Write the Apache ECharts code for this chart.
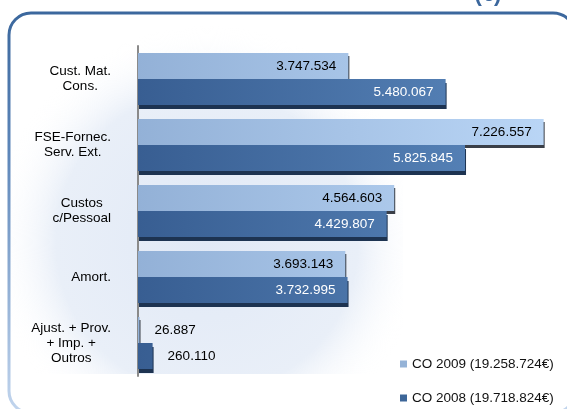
<!DOCTYPE html>
<html>
<head>
<meta charset="utf-8">
<script src="https://cdn.jsdelivr.net/npm/echarts@6/dist/echarts.min.js"></script>
<style>
  html, body { margin: 0; padding: 0; background: #fff; }
  #chart { width: 567px; height: 409px; }
</style>
</head>
<body>
<div id="chart"></div>
<script>
const categories = ['Cust. Mat.\nCons.', 'FSE-Fornec.\nServ. Ext.', 'Custos\nc/Pessoal', 'Amort.', 'Ajust. + Prov.\n+ Imp. +\nOutros']
const co2009 = [3747534, 7226557, 4564603, 3693143, 26887]
const co2008 = [5480067, 5825845, 4429807, 3732995, 260110]
const seriesNames = ['CO 2009 (19.258.724€)', 'CO 2008 (19.718.824€)']

const font = '"Liberation Sans", Arial, sans-serif'
const fs = 13.5

// 1234567 -> 1.234.567
const fmt = v => String(v).replace(/\B(?=(\d{3})+(?!\d))/g, '.')

const chart = echarts.init(document.getElementById('chart'))

const barLabel = (color, v) => v < 500000
  ? { show: true, position: 'right', distance: 15, color: '#000' }
  : { show: true, position: 'insideRight', distance: 12, color }

const mkData = (vals, color) => vals.map(v => ({ value: v, label: barLabel(color, v) }))

const option = {
  animation: false,
  textStyle: { fontFamily: font },
  graphic: [
    {
      type: 'rect', z: -10, silent: true,
      shape: { x: 11, y: 26, width: 392, height: 348 },
      style: {
        fill: new echarts.graphic.RadialGradient(0.5, 0.62, 0.62, [
          { offset: 0, color: '#e1e9f6' },
          { offset: 0.7, color: '#e9eff8' },
          { offset: 1, color: 'rgba(255,255,255,0)' }
        ])
      }
    },
    {
      type: 'rect', z: 10, silent: true,
      shape: { x: 9, y: 13, width: 566, height: 400, r: 22 },
      style: {
        fill: 'none', lineWidth: 3,
        stroke: new echarts.graphic.LinearGradient(0, 0, 0, 1, [
          { offset: 0, color: '#3b679d' },
          { offset: 0.35, color: '#5d86b9' },
          { offset: 1, color: '#c3d6ee' }
        ])
      }
    },
    {
      type: 'text', z: 10, silent: true,
      style: { x: 488, y: 6, text: '(€)', align: 'center', verticalAlign: 'bottom',
        fill: '#3b679d', font: 'bold 22px ' + font }
    }
  ],
  legend: {
    orient: 'vertical',
    left: 400,
    top: 357,
    padding: 0,
    itemWidth: 7,
    itemHeight: 7,
    itemGap: 20,
    itemTextGap: 3,
    icon: 'rect',
    textStyle: { fontSize: fs, color: '#111', fontFamily: font },
    data: [
      { name: seriesNames[0], itemStyle: { color: '#95b3d7' } },
      { name: seriesNames[1], itemStyle: { color: '#3d6698' } }
    ]
  },
  grid: { left: 138, right: 8, top: 46, bottom: 33 },
  xAxis: {
    type: 'value',
    min: 0,
    max: 7500000,
    show: false
  },
  yAxis: {
    type: 'category',
    data: categories,
    inverse: true,
    offset: 9,
    axisLine: { lineStyle: { color: '#8a8a8a', width: 2 } },
    axisTick: { length: 4, lineStyle: { color: '#8a8a8a', width: 1.5 } },
    axisLabel: {
      margin: 18,
      align: 'right',
      color: '#000',
      fontSize: fs,
      lineHeight: 15,
      formatter: v => v.split('\n').map(s => '{c|' + s + '}').join('\n'),
      rich: { c: { align: 'center', fontSize: fs, lineHeight: 15, color: '#000', fontFamily: font } }
    }
  },
  series: [
    {
      name: seriesNames[0],
      type: 'bar',
      barWidth: 26,
      barGap: '0%',
      data: mkData(co2009, '#000'),
      label: { fontSize: fs, fontFamily: font, formatter: p => fmt(p.value) },
      itemStyle: {
        color: new echarts.graphic.LinearGradient(138, 0, 560, 0, [
          { offset: 0, color: '#93b1d7' },
          { offset: 1, color: '#bbd7f7' }
        ], true),
        shadowColor: '#3a3f48', shadowOffsetY: 3, shadowOffsetX: 1, shadowBlur: 0
      }
    },
    {
      name: seriesNames[1],
      type: 'bar',
      barWidth: 26,
      data: mkData(co2008, '#fff'),
      label: { fontSize: fs, fontFamily: font, formatter: p => fmt(p.value) },
      itemStyle: {
        color: new echarts.graphic.LinearGradient(138, 0, 480, 0, [
          { offset: 0, color: '#385e92' },
          { offset: 1, color: '#5581b6' }
        ], true),
        shadowColor: '#1d3351', shadowOffsetY: 4, shadowOffsetX: 1, shadowBlur: 0
      }
    }
  ]
}

chart.setOption(option)
</script>
</body>
</html>
